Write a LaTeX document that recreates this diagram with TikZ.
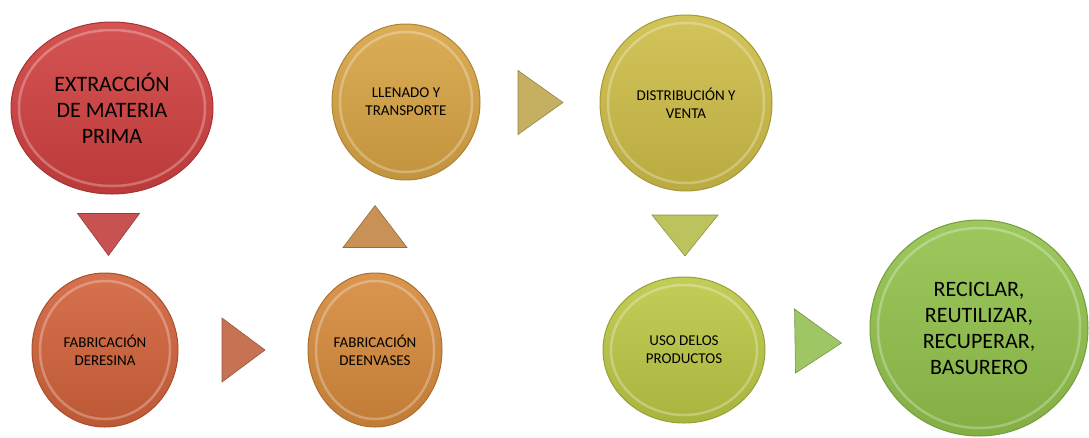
\documentclass[tikz,border=0pt]{standalone}
\usepackage{fontspec}
\setmainfont{Carlito}
\usetikzlibrary{shapes.geometric,calc}

\definecolor{extrac}{RGB}{208,64,64}
\definecolor{resina}{RGB}{210,98,58}
\definecolor{envase}{RGB}{214,138,60}
\definecolor{llenado}{RGB}{216,164,68}
\definecolor{distrib}{RGB}{206,190,72}
\definecolor{uso}{RGB}{188,200,70}
\definecolor{recicla}{RGB}{146,194,76}
\definecolor{triA}{RGB}{200,82,82}
\definecolor{triB}{RGB}{200,114,84}
\definecolor{triC}{RGB}{200,146,86}
\definecolor{triD}{RGB}{196,176,96}
\definecolor{triE}{RGB}{188,194,92}
\definecolor{triF}{RGB}{158,198,100}

\begin{document}
\begin{tikzpicture}[x=1pt, y=-1pt,
	main node/.style={ellipse, inner sep=0pt, align=center, line width=1pt,
		draw=#1!80!black, top color=#1!90!white, bottom color=#1!90!black,
		path picture={\draw[white, opacity=.28, line width=2.5pt]
			let \p1=(path picture bounding box.north east),
			\p2=(path picture bounding box.south west) in
			(path picture bounding box.center)
			ellipse ({(\x1-\x2)/2-8pt} and {(\y1-\y2)/2-8pt});}},
	small text/.style={font=\fontsize{15}{18}\selectfont},
	big text/.style={font=\fontsize{22}{26}\selectfont},
	tri/.style={fill=#1, draw=#1!75!black, line width=.6pt}]
	
	\useasboundingbox (0,0) rectangle (1089,437);
	
	\node[main node=extrac, big text, minimum width=202pt, minimum height=172pt] (1) at (112,108)
		{EXTRACCIÓN\\DE MATERIA\\PRIMA};
	\node[main node=resina, small text, minimum width=146pt, minimum height=154pt] (2) at (105,350)
		{FABRICACIÓN\\DERESINA};
	\node[main node=envase, small text, minimum width=134pt, minimum height=154pt] (3) at (375,350)
		{FABRICACIÓN\\DEENVASES};
	\node[main node=llenado, small text, minimum width=148pt, minimum height=156pt] (4) at (406,102)
		{LLENADO Y\\TRANSPORTE};
	\node[main node=distrib, small text, minimum width=172pt, minimum height=176pt] (5) at (686,103)
		{DISTRIBUCIÓN Y\\VENTA};
	\node[main node=uso, small text, minimum width=162pt, minimum height=146pt] (6) at (684,350)
		{USO DELOS\\PRODUCTOS};
	\node[main node=recicla, big text, minimum width=218pt, minimum height=216pt] (7) at (979,328)
		{RECICLAR,\\REUTILIZAR,\\RECUPERAR,\\BASURERO};
	
	% triangles between the steps
	\coordinate (a12) at ($(1.south)!0.5!(2.north)$);
	\coordinate (a23) at ($(2.east)!0.5!(3.west)$);
	\coordinate (a34) at ($(3.north)!0.5!(4.south)$);
	\coordinate (a45) at ($(4.east)!0.5!(5.west)$);
	\coordinate (a56) at ($(5.south)!0.5!(6.north)$);
	\coordinate (a67) at ($(6.east)!0.5!(7.west)$);
	
	\draw[tri=triA]
		($(a12)+(-31,-20)$) -- ($(a12)+(31,-20)$) -- ($(a12)+(0,22)$) -- cycle;
	\draw[tri=triB]
		($(a23)+(-21,-32)$) -- ($(a23)+(22,0)$) -- ($(a23)+(-21,32)$) -- cycle;
	\draw[tri=triC]
		($(3.north |- a34)+(-32,21)$) -- ($(3.north |- a34)+(32,21)$) -- ($(3.north |- a34)+(0,-21)$) -- cycle;
	\draw[tri=triD]
		($(a45)+(-22,-32)$) -- ($(a45)+(23,0)$) -- ($(a45)+(-22,32)$) -- cycle;
	\draw[tri=triE]
		($(a56)+(-33,-19)$) -- ($(a56)+(33,-19)$) -- ($(a56)+(0,22)$) -- cycle;
	\draw[tri=triF]
		($(a67)+(-23,-30)$) -- ($(a67)+(24,4)$) -- ($(a67)+(-22,34)$) -- cycle;
\end{tikzpicture}
\end{document}
